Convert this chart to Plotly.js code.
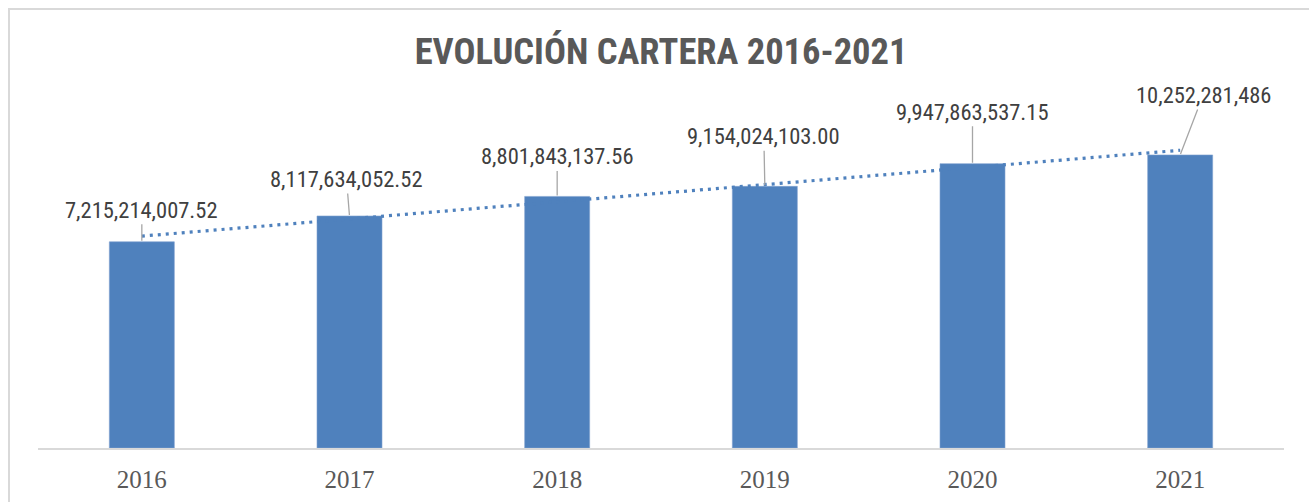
<!DOCTYPE html>
<html>
<head>
<meta charset="utf-8">
<script src="https://cdn.plot.ly/plotly-3.0.1.min.js"></script>
<style>
html,body{margin:0;padding:0;background:#fff;overflow:hidden;}
#chart{position:absolute;left:0;top:0;width:1309px;height:502px;}
#frame{position:absolute;left:8px;top:8px;width:1320px;height:520px;border:2px solid #d9d9d9;pointer-events:none;box-sizing:border-box;}
</style>
</head>
<body>
<div id="chart"></div>
<div id="frame"></div>
<script>
const years = ['2016','2017','2018','2019','2020','2021'];
const cartera = [7215214007.52, 8117634052.52, 8801843137.56, 9154024103.00, 9947863537.15, 10252281486];
const labels = ['7,215,214,007.52','8,117,634,052.52','8,801,843,137.56','9,154,024,103.00','9,947,863,537.15','10,252,281,486'];

// linear trendline (least squares over category index), as in the spreadsheet
const n = cartera.length;
const xs = cartera.map((_, i) => i);
const mx = xs.reduce((a, b) => a + b, 0) / n;
const my = cartera.reduce((a, b) => a + b, 0) / n;
let sxy = 0, sxx = 0;
for (let i = 0; i < n; i++) { sxy += (xs[i] - mx) * (cartera[i] - my); sxx += (xs[i] - mx) ** 2; }
const slope = sxy / sxx, icpt = my - slope * mx;
const trend = xs.map(x => icpt + slope * x);

const labelOffsets = [[0,-32],[-3,-37],[0,-40],[-1,-50],[0,-52],[23,-60]];

const LABEL_FONT = '"Liberation Sans Narrow","Arial Narrow","Roboto Condensed","Liberation Sans",sans-serif';

const traces = [
  {type:'bar', x:years, y:cartera, width:0.313,
   marker:{color:'#4f81bd', line:{color:'#7fa1d0', width:0.6}},
   hoverinfo:'skip'},
  {type:'scatter', mode:'lines', x:years, y:trend,
   line:{color:'#4f81bd', width:3.2, dash:'3px,5px'}, hoverinfo:'skip'}
];

// on a category axis, annotation x is the category index
const annotations = years.map((yr, i) => ({
  x: i, y: cartera[i], xref:'x', yref:'y',
  text: labels[i], showarrow:true, arrowhead:0, arrowwidth:1.3, arrowcolor:'#a6a6a6',
  ax: labelOffsets[i][0], ay: labelOffsets[i][1], standoff:1,
  font:{family:LABEL_FONT, size:22.5, color:'#404040'}
}));

const layout = {
  width:1309, height:502,
  margin:{l:38, r:25, t:105, b:54},
  paper_bgcolor:'#ffffff', plot_bgcolor:'#ffffff',
  showlegend:false,
  title:{text:'<b>EVOLUCIÓN CARTERA 2016-2021</b>', x:0.505, xanchor:'center', y:0.897, yanchor:'middle',
         font:{family:LABEL_FONT, size:36.5, color:'#595959'}},
  xaxis:{type:'category', range:[-0.5,5.5], showline:true, linecolor:'#d9d9d9', linewidth:1.5, showgrid:false, zeroline:false,
         ticks:'', ticklabelstandoff:8,
         tickfont:{family:'"Liberation Serif","DejaVu Serif",serif', size:25, color:'#595959'}},
  yaxis:{range:[0,12e9], visible:false, showgrid:false, zeroline:false},
  annotations: annotations
};

Plotly.newPlot('chart', traces, layout, {displayModeBar:false, staticPlot:true});
</script>
</body>
</html>
